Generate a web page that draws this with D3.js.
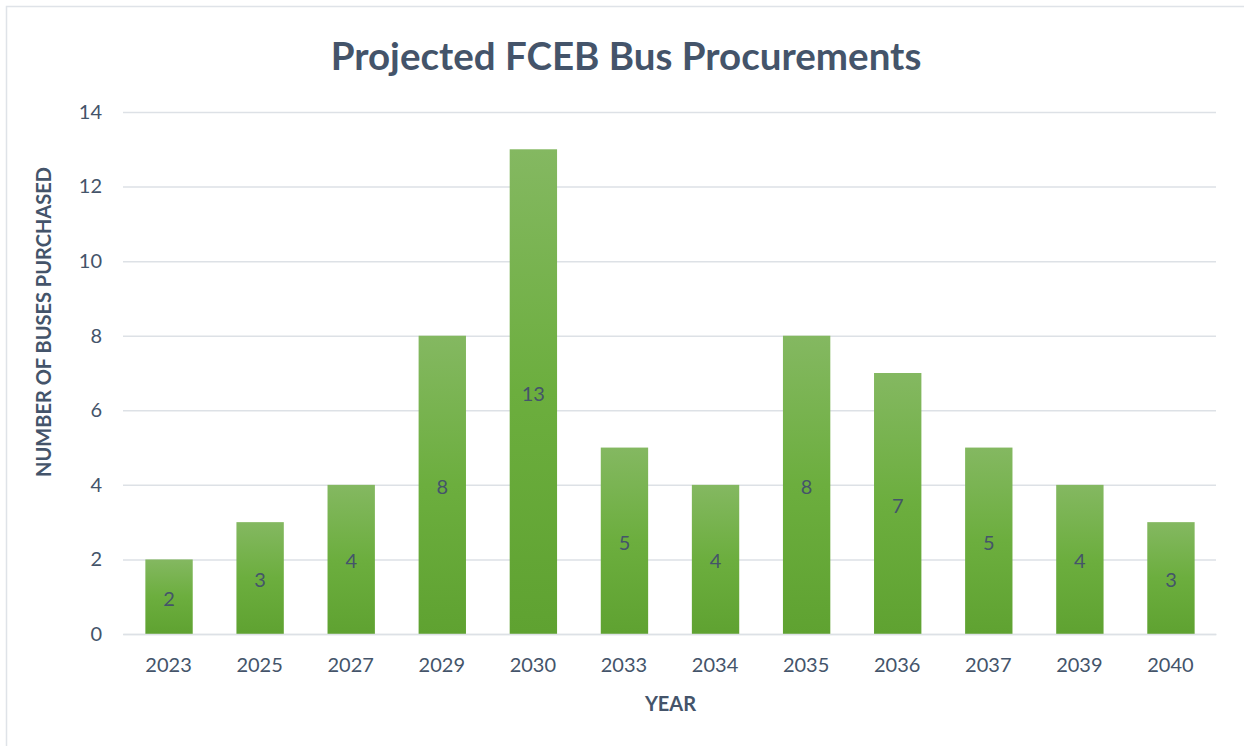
<!DOCTYPE html>
<html><head><meta charset="utf-8">
<script src="https://cdn.jsdelivr.net/npm/d3@7"></script>
<style>body{margin:0;background:#fff;} svg{display:block;}</style>
</head><body>
<svg id="c" width="1244" height="746"></svg>
<script>
const years = ["2023","2025","2027","2029","2030","2033","2034","2035","2036","2037","2039","2040"];
const buses = [2,3,4,8,13,5,4,8,7,5,4,3];
const yTicks = [0,2,4,6,8,10,12,14];

const svg = d3.select("#c");
const font = "Lato, 'Open Sans', sans-serif";
const textCol = "#44546a";
const m = {l:123, r:1216, t:112, b:634};

svg.append("rect").attr("x",6.5).attr("y",6.5).attr("width",1300).attr("height",800)
  .attr("fill","#fff").attr("stroke","#dfe3e8").attr("stroke-width",1.5);

const defs = svg.append("defs");
const g = defs.append("linearGradient").attr("id","bg").attr("x1",0).attr("y1",0).attr("x2",0).attr("y2",1);
g.append("stop").attr("offset","0%").attr("stop-color","#84b861");
g.append("stop").attr("offset","50%").attr("stop-color","#6cae3e");
g.append("stop").attr("offset","100%").attr("stop-color","#5fa231");

const x = d3.scaleBand().domain(years).range([m.l,m.r]).paddingInner(0.48).paddingOuter(0.24);
const y = d3.scaleLinear().domain([0,14]).range([m.b,m.t]);

// gridlines
const yAxis = d3.axisLeft(y).tickValues(yTicks).tickSize(-(m.r-m.l)).tickPadding(20);
const ya = svg.append("g").attr("transform",`translate(${m.l},0)`).call(yAxis);
ya.select(".domain").remove();
ya.selectAll(".tick line").attr("stroke","#dde1e6").attr("stroke-width",1.5);
ya.selectAll(".tick text").attr("fill",textCol).attr("font-family",font).attr("font-size",20).attr("x",-21);

// bars
svg.append("g").selectAll("rect").data(years).join("rect")
  .attr("x",d=>x(d)+0.5).attr("width",x.bandwidth())
  .attr("y",(d,i)=>y(buses[i])).attr("height",(d,i)=>y(0)-y(buses[i]))
  .attr("fill","url(#bg)");

// x axis
const xAxis = d3.axisBottom(x).tickSize(0).tickPadding(24);
const xa = svg.append("g").attr("transform",`translate(0,${m.b})`).call(xAxis);
xa.select(".domain").attr("stroke","#dde1e6").attr("stroke-width",1.5);
xa.selectAll(".tick text").attr("fill",textCol).attr("font-family",font).attr("font-size",20);

// value labels
svg.append("g").selectAll("text").data(years).join("text")
  .attr("x",d=>x(d)+x.bandwidth()/2+0.5)
  .attr("y",(d,i)=>(y(buses[i])+y(0))/2+2)
  .attr("dy","0.35em").attr("text-anchor","middle")
  .attr("fill",textCol).attr("font-family",font).attr("font-size",20)
  .text((d,i)=>buses[i]);

// title
svg.append("text").attr("x",626).attr("y",70).attr("text-anchor","middle")
  .attr("fill",textCol).attr("font-family",font).attr("font-weight","bold").attr("font-size",38.5)
  .text("Projected FCEB Bus Procurements");

svg.append("text").attr("x",(m.l+m.r)/2+1).attr("y",711).attr("text-anchor","middle")
  .attr("fill",textCol).attr("font-family",font).attr("font-weight","bold").attr("font-size",20)
  .text("YEAR");

svg.append("text").attr("transform",`translate(51,322) rotate(-90)`).attr("text-anchor","middle")
  .attr("fill",textCol).attr("font-family",font).attr("font-weight","bold").attr("font-size",20)
  .text("NUMBER OF BUSES PURCHASED");
</script>
</body></html>
